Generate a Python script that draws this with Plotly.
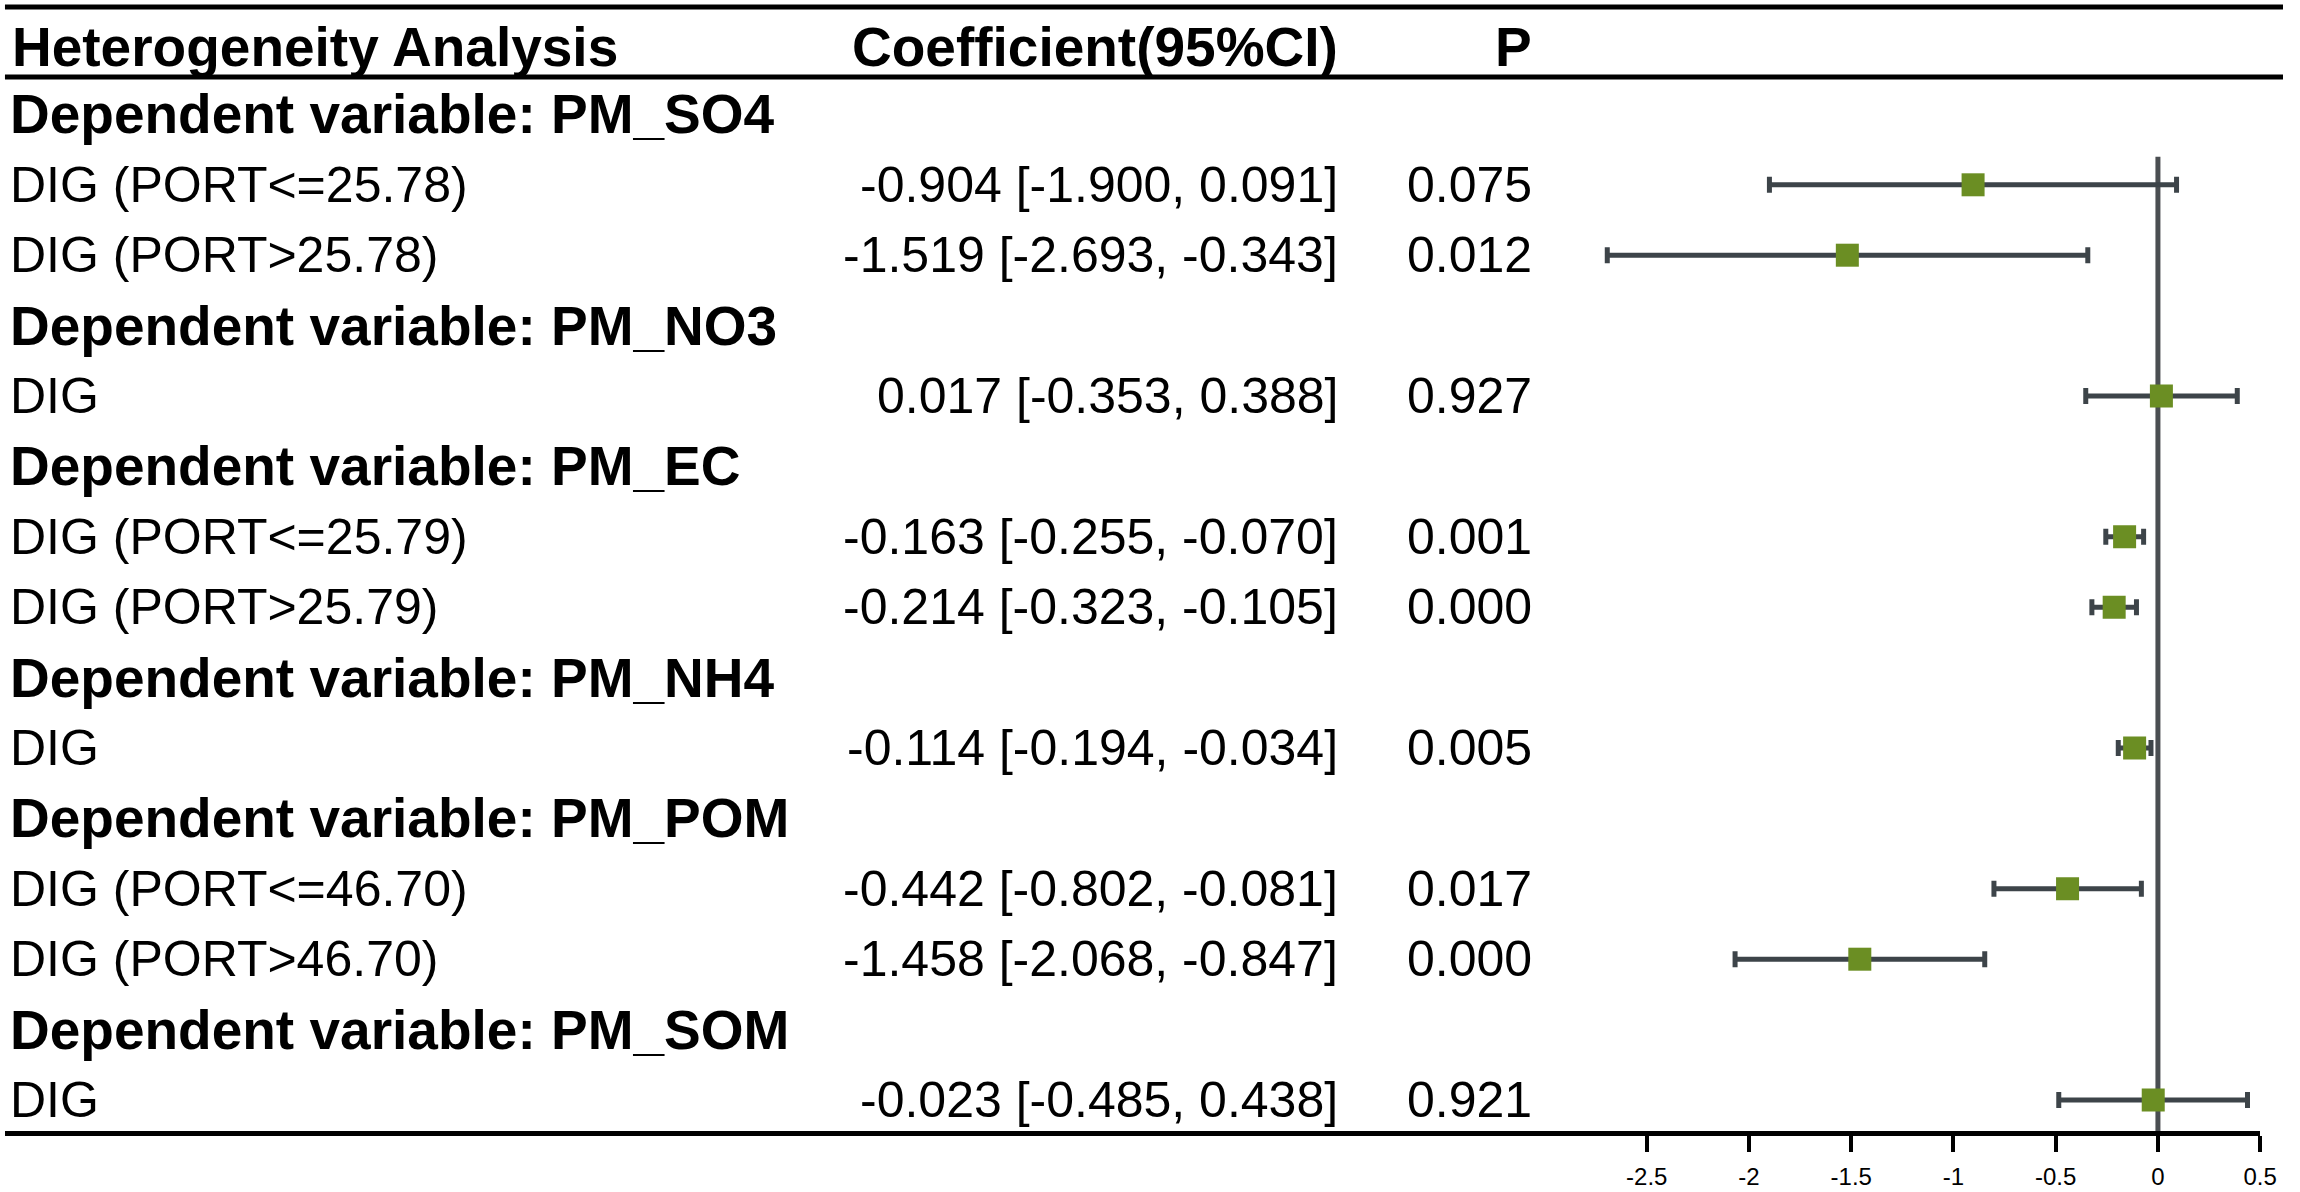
import plotly.graph_objects as go

# ---------------- data ----------------
header_cols = ["Heterogeneity Analysis", "Coefficient(95%CI)", "P"]
row_labels = [
    "Dependent variable: PM_SO4",
    "DIG (PORT<=25.78)",
    "DIG (PORT>25.78)",
    "Dependent variable: PM_NO3",
    "DIG",
    "Dependent variable: PM_EC",
    "DIG (PORT<=25.79)",
    "DIG (PORT>25.79)",
    "Dependent variable: PM_NH4",
    "DIG",
    "Dependent variable: PM_POM",
    "DIG (PORT<=46.70)",
    "DIG (PORT>46.70)",
    "Dependent variable: PM_SOM",
    "DIG",
]
is_group = [True, False, False, True, False, True, False, False, True, False, True, False, False, True, False]
coef = [None, -0.904, -1.519, None, 0.017, None, -0.163, -0.214, None, -0.114, None, -0.442, -1.458, None, -0.023]
ci_low = [None, -1.900, -2.693, None, -0.353, None, -0.255, -0.323, None, -0.194, None, -0.802, -2.068, None, -0.485]
ci_high = [None, 0.091, -0.343, None, 0.388, None, -0.070, -0.105, None, -0.034, None, -0.081, -0.847, None, 0.438]
p_vals = [None, "0.075", "0.012", None, "0.927", None, "0.001", "0.000", None, "0.005", None, "0.017", "0.000", None, "0.921"]
tick_vals = [-2.5, -2, -1.5, -1, -0.5, 0, 0.5]
tick_text = ["-2.5", "-2", "-1.5", "-1", "-0.5", "0", "0.5"]

# ---------------- layout geometry ----------------
W, H = 2300, 1192
FONT = "Liberation Sans, Arial, sans-serif"
BAR_COLOR = "#3d4449"
MARK_COLOR = "#6b8e23"
BOLD_SIZE = 55
REG_SIZE = 50

row_idx = list(range(len(row_labels)))
pts = [i for i in row_idx if coef[i] is not None]
xs = [coef[i] for i in pts]
ys = [i for i in pts]
err_plus = [ci_high[i] - coef[i] for i in pts]
err_minus = [coef[i] - ci_low[i] for i in pts]

fig = go.Figure()
fig.add_trace(go.Scatter(
    x=xs, y=ys, mode="markers",
    marker=dict(symbol="square", size=23, color=MARK_COLOR, line=dict(width=0)),
    error_x=dict(type="data", symmetric=False, array=err_plus, arrayminus=err_minus,
                 color=BAR_COLOR, thickness=5, width=8),
    showlegend=False, hoverinfo="skip",
))

# pixel mapping helpers
x0_px, unit_px = 2174.0, 206.0
row0_px, row_px = 114.4, 70.4
axis_px = 1131.0
x_dom = [5 / W, (x0_px + 0.5 * unit_px) / W]
x_range = [(5 - x0_px) / unit_px, 0.5]
y_dom = [(H - axis_px) / H, 1]
y_range = [(axis_px - row0_px) / row_px, (0 - row0_px) / row_px]

fig.update_layout(
    width=W, height=H, autosize=False, margin=dict(l=0, r=0, t=0, b=0),
    paper_bgcolor="white", plot_bgcolor="white",
    font=dict(family=FONT, color="black"),
    xaxis=dict(domain=x_dom, range=x_range, tickvals=tick_vals, ticktext=tick_text,
               showgrid=False, zeroline=False, showline=True, linecolor="black", linewidth=5,
               ticks="outside", ticklen=16, tickwidth=4, tickcolor="black",
               ticklabelstandoff=4,
               tickfont=dict(family=FONT, size=24, color="black"), fixedrange=True),
    yaxis=dict(domain=y_dom, range=y_range, visible=False, fixedrange=True),
)

# zero reference line
fig.add_shape(type="line", xref="x", yref="y", x0=0, x1=0, y0=0.6, y1=y_range[0],
              line=dict(color="#4a4e52", width=5), layer="below")

# table rules
for ypx in (7, 77):
    fig.add_shape(type="line", xref="paper", yref="paper", x0=5 / W, x1=1,
                  y0=1 - ypx / H, y1=1 - ypx / H, line=dict(color="black", width=5))

# header texts
hdr_y = (47 - row0_px) / row_px
hdr_x = [10 / W, 1350 / W, 1545 / W]
hdr_anchor = ["left", "right", "right"]
for t, xx, an in zip(header_cols, hdr_x, hdr_anchor):
    fig.add_annotation(text="<b>" + t + "</b>", xref="paper", yref="y", x=xx, y=hdr_y,
                       xanchor=an, yanchor="middle", showarrow=False,
                       font=dict(size=BOLD_SIZE, family=FONT))

# rows
for i in row_idx:
    if is_group[i]:
        fig.add_annotation(text="<b>" + row_labels[i] + "</b>", xref="paper", yref="y", x=8 / W, y=i,
                           xanchor="left", yanchor="middle", showarrow=False,
                           font=dict(size=BOLD_SIZE, family=FONT))
    else:
        fig.add_annotation(text=row_labels[i], xref="paper", yref="y", x=8 / W, y=i,
                           xanchor="left", yanchor="middle", showarrow=False,
                           font=dict(size=REG_SIZE, family=FONT))
        ci_txt = f"{coef[i]:.3f} [{ci_low[i]:.3f}, {ci_high[i]:.3f}]"
        fig.add_annotation(text=ci_txt, xref="paper", yref="y", x=1350 / W, y=i,
                           xanchor="right", yanchor="middle", showarrow=False,
                           font=dict(size=REG_SIZE, family=FONT))
        fig.add_annotation(text=p_vals[i], xref="paper", yref="y", x=1545 / W, y=i,
                           xanchor="right", yanchor="middle", showarrow=False,
                           font=dict(size=REG_SIZE, family=FONT))

post = (
    "document.documentElement.style.margin='0';"
    "document.documentElement.style.overflow='hidden';"
    "document.body.style.margin='0';"
    "document.body.style.overflow='hidden';"
    "var gd=document.getElementById('{plot_id}');"
    "Plotly.relayout(gd,{width:2300,height:1192});"
)
fig.write_html("out.html", config={"displayModeBar": False, "responsive": False},
               post_script=post)
